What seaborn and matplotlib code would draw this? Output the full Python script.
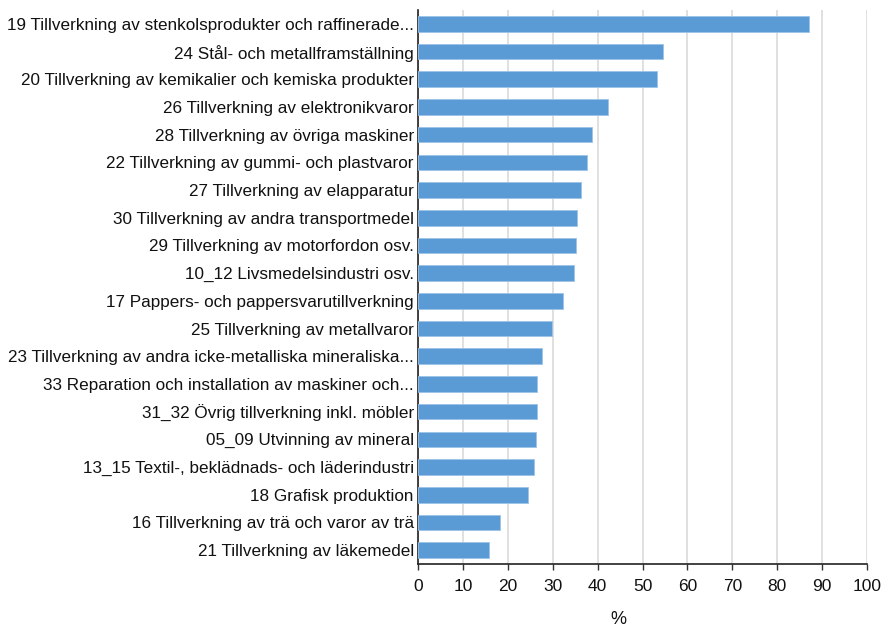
import matplotlib
matplotlib.use("Agg")
import matplotlib.pyplot as plt
import seaborn as sns
import pandas as pd

categories = [
    "19 Tillverkning av stenkolsprodukter och raffinerade...",
    "24 Stål- och metallframställning",
    "20 Tillverkning av kemikalier och kemiska produkter",
    "26 Tillverkning av elektronikvaror",
    "28 Tillverkning av övriga maskiner",
    "22 Tillverkning av gummi- och plastvaror",
    "27 Tillverkning av elapparatur",
    "30 Tillverkning av andra transportmedel",
    "29 Tillverkning av motorfordon osv.",
    "10_12 Livsmedelsindustri osv.",
    "17 Pappers- och pappersvarutillverkning",
    "25 Tillverkning av metallvaror",
    "23 Tillverkning av andra icke-metalliska mineraliska...",
    "33 Reparation och installation av maskiner och...",
    "31_32 Övrig tillverkning inkl. möbler",
    "05_09 Utvinning av mineral",
    "13_15 Textil-, beklädnads- och läderindustri",
    "18 Grafisk produktion",
    "16 Tillverkning av trä och varor av trä",
    "21 Tillverkning av läkemedel",
]
values = [87.0, 54.5, 53.3, 42.3, 38.7, 37.6, 36.2, 35.5, 35.1, 34.8,
          32.2, 29.9, 27.6, 26.6, 26.6, 26.2, 25.9, 24.4, 18.3, 15.8]
xticks = list(range(0, 101, 10))
xlabel = "%"

sns.set_theme(style="white")
plt.rcParams["font.family"] = ["Liberation Sans", "DejaVu Sans"]

df = pd.DataFrame({"cat": categories, "val": values})

fig = plt.figure(figsize=(8.81, 6.29), dpi=100)
ax = fig.add_axes([418/881, 1 - 564/629, (867-418)/881, (564-10)/629])

sns.barplot(data=df, x="val", y="cat", orient="h", color="#5B9BD5",
            width=0.56, saturation=1, edgecolor="#9CC3E8", linewidth=0.6,
            ax=ax, zorder=3)

ax.set_xlim(0, 100)
ax.set_ylim(19.5, -0.5)
ax.set_xticks(xticks)
ax.set_xticklabels([str(t) for t in xticks], fontsize=12.5, color="#111111")
ax.tick_params(axis="y", labelsize=12.3, colors="#111111", length=0, pad=3)
ax.tick_params(axis="x", length=4, width=1, color="#333333", pad=7, direction="out", bottom=True)
ax.xaxis.grid(True, color="#DADADA", linewidth=1.2, zorder=0)
ax.set_axisbelow(True)
ax.set_ylabel("")
ax.set_xlabel(xlabel, fontsize=13, color="#111111")
ax.xaxis.label.set_va("center")
ax.xaxis.set_label_coords(0.446, -56/554)

for s in ["top", "right"]:
    ax.spines[s].set_visible(False)
for s in ["left", "bottom"]:
    ax.spines[s].set_color("#222222")
    ax.spines[s].set_linewidth(1.2)

fig.savefig("out.png", dpi=100)
